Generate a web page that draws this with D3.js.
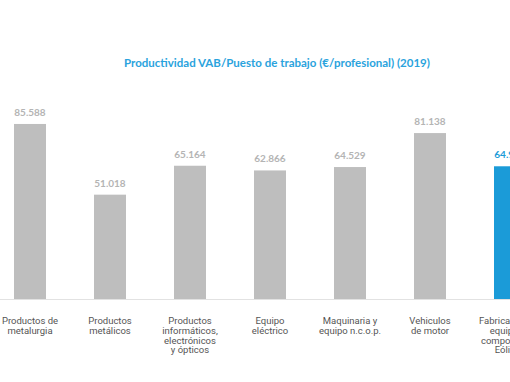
<!DOCTYPE html>
<meta charset="utf-8">
<head>
<script src="https://d3js.org/d3.v7.min.js"></script>
<style>
  body { margin: 0; background: #fff; }
  svg { display: block; }
</style>
</head>
<body>
<script>
"use strict";
var width = 510, height = 382;

// data
var categories = [
  ["Productos de", "metalurgia"],
  ["Productos", "metálicos"],
  ["Productos", "informáticos,", "electrónicos", "y ópticos"],
  ["Equipo", "eléctrico"],
  ["Maquinaria y", "equipo n.c.o.p."],
  ["Vehiculos", "de motor"],
  ["Fabricación de", "equipos y", "componentes", "Eólicos"]
];
var values = [85588, 51018, 65164, 62866, 64529, 81138, 64900];
var valueLabels = ["85.588", "51.018", "65.164", "62.866", "64.529", "81.138", "64.900"];
var highlight = [false, false, false, false, false, false, true];

var svg = d3.select("body").append("svg")
  .attr("width", width)
  .attr("height", height);

var x = d3.scaleBand()
  .domain(d3.range(values.length))
  .range([-10, 550])
  .paddingInner(0.6)
  .paddingOuter(0.3);

var y = d3.scaleLinear()
  .domain([0, 100000])
  .range([299, 94.5]);

svg.append("text")
  .attr("x", 277)
  .attr("y", 67)
  .attr("text-anchor", "middle")
  .style("font-family", "Lato, sans-serif")
  .style("font-weight", "bold")
  .style("font-size", "11.5px")
  .style("fill", "#2aa3dd")
  .text("Productividad VAB/Puesto de trabajo (€/profesional) (2019)");

// baseline
svg.append("line")
  .attr("x1", 0).attr("x2", width)
  .attr("y1", y(0) + 0.5).attr("y2", y(0) + 0.5)
  .style("stroke", "#e2e2e2");

svg.selectAll("rect.bar")
  .data(values)
  .enter().append("rect")
    .attr("class", "bar")
    .attr("x", (d, i) => x(i))
    .attr("width", x.bandwidth())
    .attr("y", d => y(d))
    .attr("height", d => y(0) - y(d))
    .style("fill", (d, i) => highlight[i] ? "#1b9bd8" : "#bebebe");

svg.selectAll("text.val")
  .data(values)
  .enter().append("text")
    .attr("class", "val")
    .attr("x", (d, i) => x(i) + x.bandwidth() / 2)
    .attr("y", d => y(d) - 8)
    .attr("text-anchor", "middle")
    .style("font-family", "Lato, sans-serif")
    .style("font-weight", "bold")
    .style("font-size", "10px")
    .style("fill", (d, i) => highlight[i] ? "#1b9bd8" : "#b4b4b4")
    .text((d, i) => valueLabels[i]);

var cat = svg.selectAll("text.cat")
  .data(categories)
  .enter().append("text")
    .attr("class", "cat")
    .attr("text-anchor", "middle")
    .style("font-family", "Roboto, sans-serif")
    .style("font-size", "9.5px")
    .style("fill", "#555");

cat.selectAll("tspan")
  .data((d, i) => d.map(s => ({s: s, i: i})))
  .enter().append("tspan")
    .attr("x", d => x(d.i) + x.bandwidth() / 2)
    .attr("y", (d, j) => 324 + j * 9.8)
    .text(d => d.s);
</script>
</body>
